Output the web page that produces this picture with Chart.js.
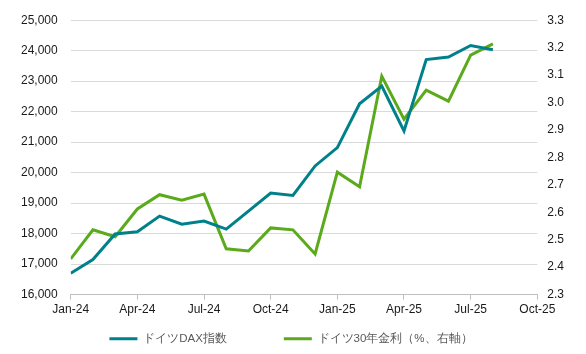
<!DOCTYPE html>
<html>
<head>
<meta charset="utf-8">
<script src="https://cdn.jsdelivr.net/npm/chart.js@4/dist/chart.umd.min.js"></script>
<style>
html,body{margin:0;padding:0;background:#fff;}
#wrap{width:586px;height:354px;position:relative;}
</style>
</head>
<body>
<div id="wrap"><canvas id="c"></canvas></div>
<script>
const months = ["Jan-24","Feb-24","Mar-24","Apr-24","May-24","Jun-24","Jul-24","Aug-24","Sep-24","Oct-24","Nov-24","Dec-24",
  "Jan-25","Feb-25","Mar-25","Apr-25","May-25","Jun-25","Jul-25","Aug-25","Sep-25","Oct-25"];
const daxValues = [16700,17150,17990,18060,18575,18310,18410,18150,18740,19330,19250,20220,
  20820,22260,22840,21370,23710,23790,24170,24030];
const yield30Values = [2.430,2.536,2.511,2.612,2.664,2.644,2.666,2.467,2.459,2.543,2.536,2.448,
  2.746,2.693,3.096,2.939,3.045,3.005,3.173,3.214];
const seriesNames = ["ドイツDAX指数","ドイツ30年金利（%、右軸）"];

const toXY = arr => arr.map((v,i)=>({x:i,y:v}));
const tickColor = "#1a1a1a";
const font = {family:"'Liberation Sans', Arial, sans-serif", size:12};

// place legend row at the reference's vertical position
const legendPlacer = {
  id:'legendPlacer',
  afterLayout(chart){
    const lg = chart.legend;
    if(!lg) return;
    const p = lg.options.labels.padding;
    lg.top = 333 - p;
    lg.bottom = chart.height;
    lg.height = lg.bottom - lg.top;
  }
};

new Chart(document.getElementById('c'), {
  type:'line',
  data:{
    datasets:[
      {label:seriesNames[0], data:toXY(daxValues), yAxisID:'y', borderColor:'#00808B', backgroundColor:'#00808B',
       borderWidth:3, pointRadius:0, tension:0},
      {label:seriesNames[1], data:toXY(yield30Values), yAxisID:'y1', borderColor:'#5BAA1C', backgroundColor:'#5BAA1C',
       borderWidth:3, pointRadius:0, tension:0}
    ]
  },
  plugins:[legendPlacer],
  options:{
    responsive:true, maintainAspectRatio:false, animation:false,
    layout:{padding:{left:8,right:12,top:12,bottom:0}},
    plugins:{
      legend:{position:'bottom', maxHeight:34,
        labels:{boxWidth:28, boxHeight:3, color:'#595959', font:{family:font.family,size:11.5}, padding:57,
          generateLabels:(chart)=>Chart.defaults.plugins.legend.labels.generateLabels(chart).map(l=>Object.assign(l,{lineWidth:0}))}},
      tooltip:{enabled:false}
    },
    scales:{
      x:{type:'linear', min:0, max:21,
        ticks:{stepSize:3, color:tickColor, font:font, maxRotation:0, autoSkip:false, padding:3,
          callback:(v)=> months[v] || ''},
        grid:{drawOnChartArea:false, drawTicks:true, tickLength:5, color:'#bfbfbf'},
        border:{display:true, color:'#bfbfbf'}
      },
      y:{position:'left', min:16000, max:25000,
        ticks:{stepSize:1000, color:tickColor, font:font, padding:13,
          callback:(v)=> v.toLocaleString('en-US')},
        grid:{color:'#d9d9d9', drawTicks:false},
        border:{display:false}
      },
      y1:{position:'right', min:2.3, max:3.3,
        ticks:{stepSize:0.1, color:tickColor, font:font, padding:10,
          callback:(v)=> v.toFixed(1)},
        grid:{drawOnChartArea:false, drawTicks:false},
        border:{display:false}
      }
    }
  }
});
</script>
</body>
</html>
